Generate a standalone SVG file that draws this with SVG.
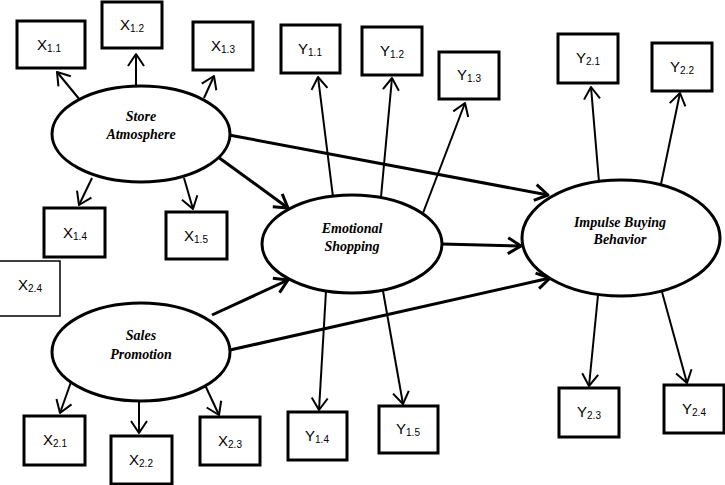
<svg xmlns="http://www.w3.org/2000/svg" width="725" height="485" viewBox="0 0 725 485">
  <style>
    .box { fill: #fff; stroke: #000; stroke-width: 3; }
    .box.thin { stroke-width: 1.5; }
    .lat { fill: #fff; stroke: #000; stroke-width: 3; }
    .ind { font-family: "Liberation Sans", Arial, sans-serif; font-size: 15px; fill: #000; text-anchor: middle; }
    .ind tspan { font-size: 10px; }
    .name { font-family: "Liberation Serif", "Times New Roman", serif; font-size: 14px; font-style: italic; font-weight: bold; fill: #000; text-anchor: middle; }
    .load { stroke: #000; stroke-width: 2; fill: none; marker-end: url(#vThin); }
    .path { stroke: #000; stroke-width: 3; fill: none; marker-end: url(#vThick); }
  </style>
  <defs>
    <marker id="vThin" markerUnits="userSpaceOnUse" viewBox="-16 -12 20 24" markerWidth="20" markerHeight="24" refX="0" refY="0" orient="auto" overflow="visible">
      <path d="M-12,-8 L0,0 L-12,8" fill="none" stroke="#000" stroke-width="2" stroke-linejoin="round"/>
    </marker>
    <marker id="vThick" markerUnits="userSpaceOnUse" viewBox="-16 -12 20 24" markerWidth="20" markerHeight="24" refX="0" refY="0" orient="auto" overflow="visible">
      <path d="M-13,-8 L0,0 L-13,8" fill="none" stroke="#000" stroke-width="3" stroke-linejoin="round"/>
    </marker>
  </defs>

  <rect width="725" height="485" fill="#fff"/>

  <g id="connectors">
    <!-- indicator loadings -->
    <line class="load" x1="80" y1="100" x2="57" y2="72"/>
    <line class="load" x1="136" y1="86" x2="136" y2="54"/>
    <line class="load" x1="204" y1="98" x2="214" y2="76"/>
    <line class="load" x1="92" y1="178" x2="79" y2="205"/>
    <line class="load" x1="184" y1="178" x2="193" y2="209"/>
    <line class="load" x1="71" y1="382" x2="60" y2="413"/>
    <line class="load" x1="139" y1="400" x2="139" y2="433"/>
    <line class="load" x1="205" y1="385" x2="219" y2="415"/>
    <line class="load" x1="333" y1="197" x2="318" y2="77"/>
    <line class="load" x1="381" y1="197" x2="392" y2="78"/>
    <line class="load" x1="423" y1="213" x2="465" y2="103"/>
    <line class="load" x1="326" y1="291" x2="319" y2="410"/>
    <line class="load" x1="383" y1="291" x2="403" y2="404"/>
    <line class="load" x1="599" y1="182" x2="591" y2="87"/>
    <line class="load" x1="661" y1="184" x2="680" y2="93"/>
    <line class="load" x1="598" y1="295" x2="589" y2="386"/>
    <line class="load" x1="662" y1="292" x2="687" y2="383"/>
    <!-- structural paths -->
    <line class="path" x1="229" y1="135" x2="548" y2="195"/>
    <line class="path" x1="218" y1="157" x2="288" y2="208"/>
    <line class="path" x1="212" y1="315" x2="288" y2="280"/>
    <line class="path" x1="230" y1="350" x2="550" y2="278"/>
    <line class="path" x1="442" y1="244" x2="521" y2="246"/>
  </g>

  <g id="store-atmosphere">
    <ellipse class="lat" cx="141" cy="134" rx="89" ry="48"/>
    <text class="name" x="141" y="121">Store</text>
    <text class="name" x="141" y="139">Atmosphere</text>
  </g>
  <g id="sales-promotion">
    <ellipse class="lat" cx="141" cy="352" rx="89" ry="49"/>
    <text class="name" x="141" y="340">Sales</text>
    <text class="name" x="141" y="359">Promotion</text>
  </g>
  <g id="emotional-shopping">
    <ellipse class="lat" cx="352" cy="244" rx="90" ry="49"/>
    <text class="name" x="352" y="233">Emotional</text>
    <text class="name" x="352" y="251">Shopping</text>
  </g>
  <g id="impulse-buying">
    <ellipse class="lat" cx="621" cy="238" rx="99" ry="58"/>
    <text class="name" x="620" y="227">Impulse Buying</text>
    <text class="name" x="620" y="244">Behavior</text>
  </g>

  <g id="x11"><rect class="box" x="17" y="21" width="68" height="47"/><text class="ind" x="49" y="50">X<tspan dy="2">1.1</tspan></text></g>
  <g id="x12"><rect class="box" x="102" y="2" width="60" height="46"/><text class="ind" x="132" y="30">X<tspan dy="2">1.2</tspan></text></g>
  <g id="x13"><rect class="box" x="193" y="22" width="60" height="48"/><text class="ind" x="223" y="51">X<tspan dy="2">1.3</tspan></text></g>
  <g id="x14"><rect class="box" x="44" y="208" width="61" height="49"/><text class="ind" x="75" y="238">X<tspan dy="2">1.4</tspan></text></g>
  <g id="x15"><rect class="box" x="166" y="212" width="61" height="47"/><text class="ind" x="196" y="241">X<tspan dy="2">1.5</tspan></text></g>
  <g id="x24"><rect class="box thin" x="-2" y="261" width="62" height="55"/><text class="ind" x="30" y="290">X<tspan dy="2">2.4</tspan></text></g>
  <g id="x21"><rect class="box" x="24" y="416" width="61" height="49"/><text class="ind" x="55" y="445">X<tspan dy="2">2.1</tspan></text></g>
  <g id="x22"><rect class="box" x="111" y="436" width="61" height="48"/><text class="ind" x="141" y="465">X<tspan dy="2">2.2</tspan></text></g>
  <g id="x23"><rect class="box" x="200" y="417" width="60" height="48"/><text class="ind" x="230" y="446">X<tspan dy="2">2.3</tspan></text></g>

  <g id="y11"><rect class="box" x="281" y="25" width="59" height="48"/><text class="ind" x="310" y="54">Y<tspan dy="2">1.1</tspan></text></g>
  <g id="y12"><rect class="box" x="362" y="27" width="60" height="48"/><text class="ind" x="392" y="56">Y<tspan dy="2">1.2</tspan></text></g>
  <g id="y13"><rect class="box" x="439" y="52" width="60" height="47"/><text class="ind" x="469" y="80">Y<tspan dy="2">1.3</tspan></text></g>
  <g id="y14"><rect class="box" x="288" y="412" width="59" height="48"/><text class="ind" x="317" y="441">Y<tspan dy="2">1.4</tspan></text></g>
  <g id="y15"><rect class="box" x="379" y="406" width="59" height="47"/><text class="ind" x="408" y="434">Y<tspan dy="2">1.5</tspan></text></g>
  <g id="y21"><rect class="box" x="558" y="34" width="60" height="49"/><text class="ind" x="588" y="63">Y<tspan dy="2">2.1</tspan></text></g>
  <g id="y22"><rect class="box" x="652" y="43" width="60" height="48"/><text class="ind" x="682" y="72">Y<tspan dy="2">2.2</tspan></text></g>
  <g id="y23"><rect class="box" x="559" y="388" width="60" height="49"/><text class="ind" x="589" y="417">Y<tspan dy="2">2.3</tspan></text></g>
  <g id="y24"><rect class="box" x="664" y="385" width="60" height="48"/><text class="ind" x="694" y="414">Y<tspan dy="2">2.4</tspan></text></g>
</svg>
